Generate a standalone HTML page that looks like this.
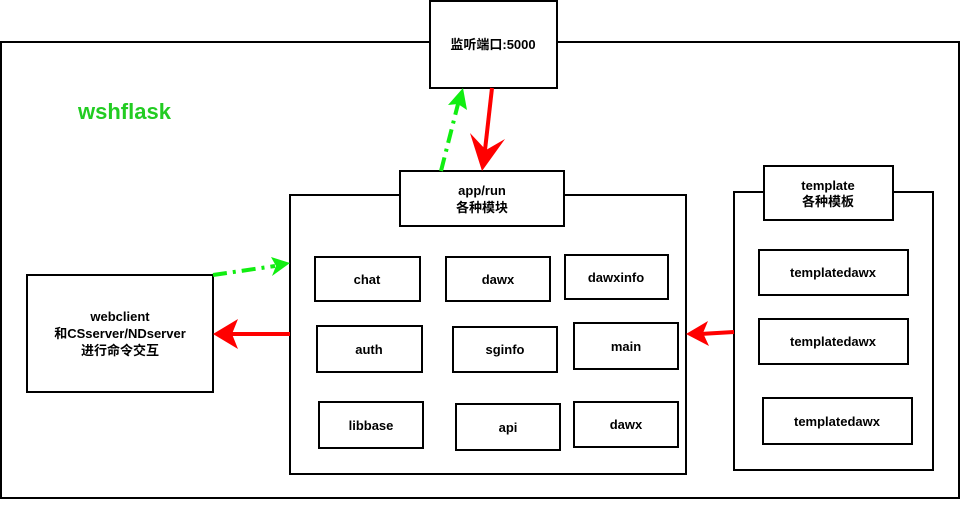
<!DOCTYPE html>
<html><head><meta charset="utf-8"><style>
body{margin:0;background:#fff}
text{font-family:"Liberation Sans","Noto Sans CJK SC",sans-serif;font-weight:bold;font-size:13px;text-anchor:middle}
</style></head><body>
<svg width="961" height="500" xmlns="http://www.w3.org/2000/svg">
<g fill="#fff" stroke="#000" stroke-width="2">
<rect x="1" y="42" width="958" height="456"/>
<rect x="430" y="1" width="127" height="87"/>
<rect x="290" y="195" width="396" height="279"/>
<rect x="400" y="171" width="164" height="55"/>
<rect x="27" y="275" width="186" height="117"/>
<rect x="734" y="192" width="199" height="278"/>
<rect x="764" y="166" width="129" height="54"/>
<rect x="315" y="257" width="105" height="44"/>
<rect x="446" y="257" width="104" height="44"/>
<rect x="565" y="255" width="103" height="44"/>
<rect x="317" y="326" width="105" height="46"/>
<rect x="453" y="327" width="104" height="45"/>
<rect x="574" y="323" width="104" height="46"/>
<rect x="319" y="402" width="104" height="46"/>
<rect x="456" y="404" width="104" height="46"/>
<rect x="574" y="402" width="104" height="45"/>
<rect x="759" y="250" width="149" height="45"/>
<rect x="759" y="319" width="149" height="45"/>
<rect x="763" y="398" width="149" height="46"/>
</g>
<text x="78" y="119" style="font-size:22px;fill:#22cc22;text-anchor:start">wshflask</text>
<text x="493" y="49">监听端口:5000</text>
<text x="482" y="195">app/run</text>
<text x="482" y="212">各种模块</text>
<text x="828" y="190">template</text>
<text x="828" y="206">各种模板</text>
<text x="120" y="321">webclient</text>
<text x="120" y="338">和CSserver/NDserver</text>
<text x="120" y="355">进行命令交互</text>
<text x="367" y="284">chat</text>
<text x="498" y="284">dawx</text>
<text x="616" y="282">dawxinfo</text>
<text x="369" y="354">auth</text>
<text x="505" y="354">sginfo</text>
<text x="626" y="351">main</text>
<text x="371" y="430">libbase</text>
<text x="508" y="432">api</text>
<text x="626" y="429">dawx</text>
<text x="833" y="277">templatedawx</text>
<text x="833" y="346">templatedawx</text>
<text x="837" y="426">templatedawx</text>
<g stroke="#f00" stroke-width="4" fill="#f00">
<line x1="492" y1="88" x2="485" y2="150"/>
<line x1="290" y1="334" x2="225" y2="334"/>
<line x1="734" y1="332" x2="700" y2="334"/>
</g>
<g fill="#f00">
<polygon points="470,133 482,171 505,139 486,150"/>
<polygon points="213,334 238,319 232,334 238,349"/>
<polygon points="686,334 708,321 703,333 709,346"/>
</g>
<g stroke="#11ee11" stroke-width="4" fill="none" stroke-dasharray="14,6,3,6">
<line x1="441" y1="171" x2="458" y2="104"/>
<line x1="213" y1="275" x2="275" y2="266"/>
</g>
<g fill="#11ee11">
<polygon points="463,88 467,110 458,104 448,105"/>
<polygon points="290,263 272,276 276,266 271,257"/>
</g>
</svg>
</body></html>
